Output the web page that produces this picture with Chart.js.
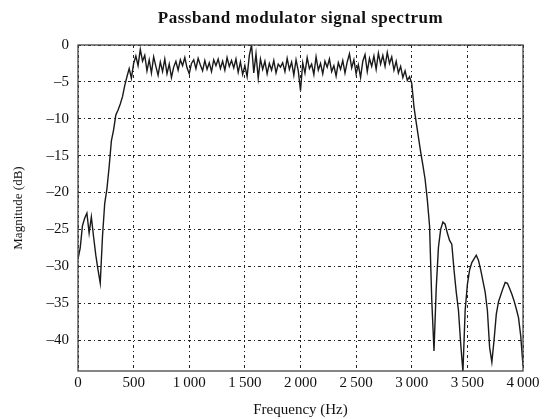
<!DOCTYPE html>
<html lang="en">
<head>
  <meta charset="UTF-8" />
  <title>Passband modulator signal spectrum</title>
  <script src="https://cdn.jsdelivr.net/npm/chart.js"></script>
  <style>
    body {
      margin: 0;
      background: #fff;
    }
    .chart-box {
      position: relative;
      width: 549px;
      height: 419px;
    }
    .chart-title {
      position: absolute;
      left: 78px;
      width: 445px;
      top: 8px;
      text-align: center;
      font-family: 'Liberation Serif', 'Times New Roman', serif;
      font-weight: bold;
      font-size: 17px;
      letter-spacing: 0.5px;
      color: #111;
    }
  </style>
</head>
<body>

  <div class="chart-box">
    <div class="chart-title">Passband modulator signal spectrum</div>
    <canvas id="spectrum"></canvas>
  </div>

  <script>
    // Samples every 20 Hz, 0 .. 4000 Hz
    const freqStep = 20;

    // Magnitude (dB)
    const magnitudes = [
      // 0 .. 500 Hz
      -29, -27.5, -24.5, -23.5, -22.8, -25.5, -23.3, -26, -28.5, -30.5,
      -32.3, -26, -21.5, -19.5, -16.5, -13, -11.5, -9.5, -8.8, -8,
      -7, -5.5, -4.3, -3.2, -4.5, -2.5,
      // 520 .. 2980 Hz (passband)
      -1.5, -2.8, -0.6, -2.2, -1.4, -3.5, -2.0, -3.8, -1.6, -2.9,
      -4.1, -2.3, -3.6, -1.9, -3.9, -2.6, -4.4, -3.0, -2.2, -3.4,
      -2.0, -2.8, -1.7, -3.1, -3.9, -2.5, -2.0, -3.2, -1.8, -2.7,
      -3.5, -2.1, -3.3, -2.4, -3.6, -2.0, -2.8, -1.9, -3.2, -2.2,
      -3.4, -1.7, -2.9, -2.1, -3.1, -1.9, -3.7, -2.3, -4.0, -2.8,
      -4.3, -1.4, 0.0, -3.8, -1.2, -4.5, -1.9, -3.3, -2.2, -3.9,
      -2.5, -3.4, -2.1, -3.8, -2.6, -3.0, -2.4, -3.6, -1.8, -3.3,
      -2.3, -4.1, -2.0, -3.5, -6.2, -2.4, -3.8, -1.7, -3.2, -2.6,
      -4.0, -1.6, -3.4, -2.5, -3.9, -2.2, -3.0, -1.9, -3.6, -2.8,
      -4.2, -2.4, -3.3, -2.1, -3.8, -2.3, -1.2, -3.1, -2.0, -3.9,
      -2.7, -4.4, -2.2, -1.3, -3.6, -1.8, -2.9, -1.5, -3.3, -1.1,
      -2.6, -1.4, -2.9, -1.0, -2.5, -1.6, -3.4, -2.2, -3.8, -2.9,
      -4.4, -3.5, -4.8, -4.3,
      // 3000 .. 4000 Hz
      -5.2, -8.4, -10.5, -12.5, -14.5, -16.3, -18.2, -21, -24.5, -34.6,
      -41.5, -33, -27.4, -25, -24, -24.3, -25.5, -26.5, -27, -30.5,
      -33.5, -36, -40.5, -44.3, -36, -32.5, -30.5, -29.5, -29, -28.5,
      -29.2, -30.5, -32, -33.5, -36, -41, -43, -40, -36.5, -34.8,
      -33.9, -33, -32.2, -32.3, -33, -33.8, -34.7, -35.8, -37, -39.5,
      -43.5
    ];

    const xTicks = [0, 500, 1000, 1500, 2000, 2500, 3000, 3500, 4000];
    const yTicks = [0, -5, -10, -15, -20, -25, -30, -35, -40];

    const points = magnitudes.map((m, i) => ({ x: i * freqStep, y: m }));

    const serif = "'Liberation Serif', 'Times New Roman', serif";
    const gridStyle = {
      color: '#222',
      lineWidth: 1,
      tickLength: 0,
      drawTicks: false
    };

    // box round the plot area
    const frame = {
      id: 'frame',
      afterDraw(chart) {
        const { ctx, chartArea: a } = chart;
        ctx.save();
        ctx.strokeStyle = '#444';
        ctx.lineWidth = 1.3;
        ctx.strokeRect(a.left, a.top, a.right - a.left, a.bottom - a.top);
        ctx.restore();
      }
    };

    new Chart(document.getElementById('spectrum'), {
      type: 'line',
      data: {
        datasets: [{
          data: points,
          borderColor: '#1a1a1a',
          borderWidth: 1.4,
          pointRadius: 0,
          tension: 0,
          fill: false
        }]
      },
      options: {
        responsive: true,
        maintainAspectRatio: false,
        animation: false,
        layout: { padding: { left: 0, right: 26, top: 45, bottom: 0 } },
        plugins: {
          legend: { display: false },
          tooltip: { enabled: false }
        },
        scales: {
          x: {
            type: 'linear',
            min: 0,
            max: 4000,
            afterFit: s => { s.height = 48; },
            afterBuildTicks: s => { s.ticks = xTicks.map(v => ({ value: v })); },
            ticks: {
              color: '#111',
              padding: 3,
              maxRotation: 0,
              font: { family: serif, size: 15 },
              callback: v => v >= 1000 ? Math.floor(v / 1000) + '\u2009' + String(v % 1000).padStart(3, '0') : String(v)
            },
            grid: gridStyle,
            border: { display: false, dash: [3, 3, 1, 3] },
            title: {
              display: true,
              text: 'Frequency (Hz)',
              color: '#111',
              font: { family: serif, size: 15 },
              padding: { top: 0, bottom: 0 }
            }
          },
          y: {
            min: -44.2,
            max: 0,
            afterFit: s => { s.width = 78; },
            afterBuildTicks: s => { s.ticks = yTicks.map(v => ({ value: v })); },
            ticks: {
              color: '#111',
              padding: 9,
              font: { family: serif, size: 15 },
              callback: v => v < 0 ? '\u2013' + Math.abs(v) : String(v)
            },
            grid: gridStyle,
            border: { display: false, dash: [3, 3, 1, 3] },
            title: {
              display: true,
              text: 'Magnitude (dB)',
              color: '#111',
              font: { family: serif, size: 13 },
              padding: { top: 11, bottom: 0 }
            }
          }
        }
      },
      plugins: [frame]
    });
  </script>

</body>
</html>
